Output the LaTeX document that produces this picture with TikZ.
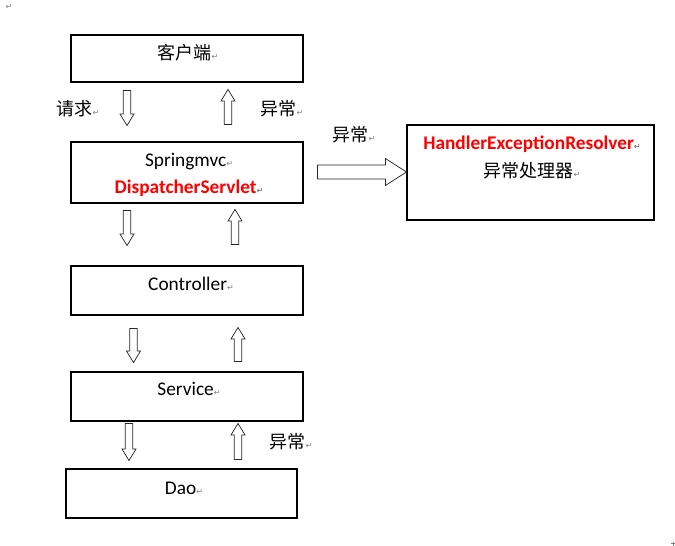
\documentclass[tikz,border=0pt]{standalone}
\usepackage{fontspec}
\setmainfont{Carlito}
\newfontfamily\cjk{Noto Sans CJK SC}
\newfontfamily\markfont{DejaVu Sans}
\usetikzlibrary{calc}
\definecolor{markgray}{RGB}{128,128,128}
\definecolor{hred}{RGB}{255,0,0}
\definecolor{arrgray}{RGB}{40,40,40}
\newcommand\retmark{{\markfont\fontsize{6}{6}\selectfont\textcolor{markgray}{↵}}}
\tikzset{
  box/.style 2 args={draw=black, line width=0.8pt, minimum width=#1*0.75pt,
    minimum height=#2*0.75pt, inner sep=0pt},
  lat/.style={inner sep=0pt, anchor=base, font=\fontsize{14.5}{16}\selectfont},
  latred/.style={lat, text=hred, font=\fontsize{14.5}{16}\selectfont\bfseries},
  zh/.style={inner sep=0pt, anchor=base, font=\cjk\fontsize{13.5}{15}\selectfont},
  arrowline/.style={draw=arrgray, line width=0.55pt, fill=white, line join=miter},
  pics/barrow/.style n args={4}{code={%
    \draw[arrowline] (0,-#2) -- ({#1-#4},-#2) -- ({#1-#4},-#3) -- (#1,0)
      -- ({#1-#4},#3) -- ({#1-#4},#2) -- (0,#2) -- cycle;}}
}
\begin{document}
\begin{tikzpicture}[x=0.75pt,y=-0.75pt]
\useasboundingbox[fill=white] (0,0) rectangle (675,546);

% boxes
\node[box={232}{47}] (client) at (187,58.5) {};
\node[box={232}{61}] (disp) at (187,172.5) {};
\node[box={247}{95}] (handler) at (530.5,172.5) {};
\node[box={232}{49}] (ctrl) at (187,290.5) {};
\node[box={232}{49}] (serv) at (187,396.5) {};
\node[box={231}{49}] (dao) at (181.5,493.5) {};

% texts in boxes
\node[zh] (tclient) at (188,59) {客户端\retmark};
\node[lat] (tspring) at (189,166) {Springmvc\retmark};
\node[latred] (tdisp) at (189,193) {DispatcherServlet\retmark};
\node[latred] (thandler) at (532,149) {HandlerExceptionResolver\retmark};
\node[zh] (thandler2) at (532,177) {异常处理器\retmark};
\node[lat] (tctrl) at (191,290.5) {Controller\retmark};
\node[lat] (tserv) at (189,395.5) {Service\retmark};
\node[lat] (tdao) at (184,494) {Dao\retmark};

% labels
\node[zh] (lreq) at (78,115) {请求\retmark};
\node[zh] (lexc1) at (282,115) {异常\retmark};
\node[zh] (lexc2) at (354,141) {异常\retmark};
\node[zh] (lexc3) at (291,448) {异常\retmark};

% block arrows
\pic[rotate=-90] at ($(client.south)+(-60,8)$) {barrow={35}{3.8}{7}{11.5}};
\pic[rotate=90] at ($(disp.north)+(41,-17)$) {barrow={35}{3.8}{7}{11.5}};
\pic[rotate=-90] at ($(disp.south)+(-60,7)$) {barrow={35}{3.8}{7}{11.5}};
\pic[rotate=90] at ($(ctrl.north)+(48,-21)$) {barrow={35}{3.8}{7}{11.5}};
\pic[rotate=-90] at ($(ctrl.south)+(-53.5,13)$) {barrow={34}{3.8}{7}{11.5}};
\pic[rotate=90] at ($(serv.north)+(51,-10)$) {barrow={34}{3.8}{7}{11.5}};
\pic[rotate=-90] at ($(serv.south)+(-58,2)$) {barrow={37}{3.8}{7}{11.5}};
\pic[rotate=90] at ($(dao.north)+(56.5,-9)$) {barrow={36}{3.8}{7}{11.5}};
\pic at ($(handler.west)+(-89,-0.5)$) {barrow={89}{7}{13.5}{21}};

% page marks
\node[inner sep=0pt, anchor=base] (m1) at (9,9) {\retmark};
\draw[markgray, line width=0.6pt] (671,543.5) -- (675,543.5) (673,541.5) -- (673,546);
\end{tikzpicture}
\end{document}
